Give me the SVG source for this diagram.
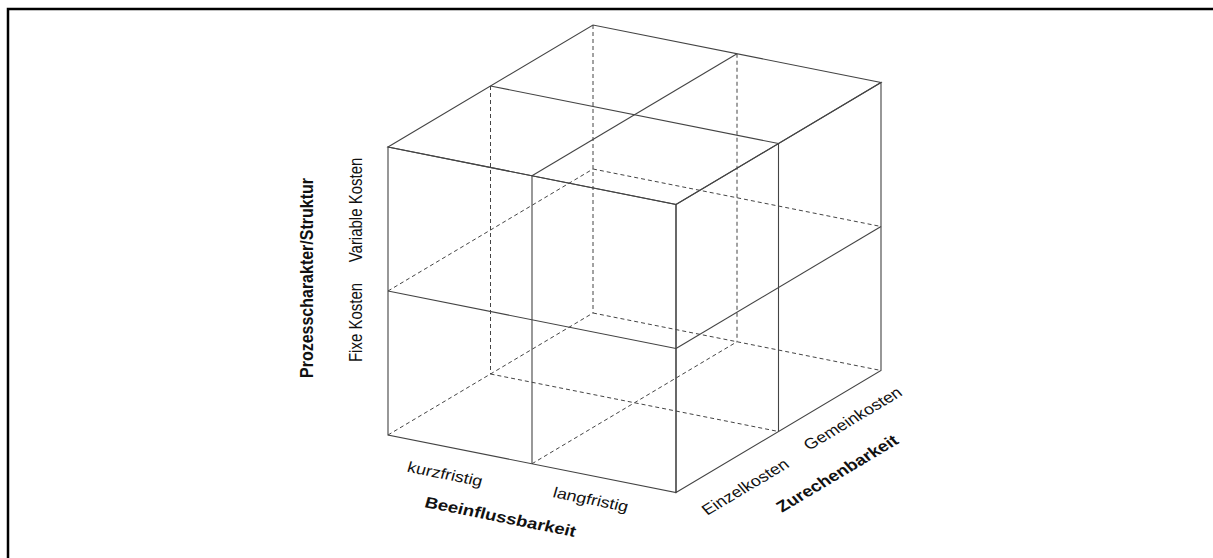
<svg xmlns="http://www.w3.org/2000/svg" width="1213" height="558" viewBox="0 0 1213 558">
<style>
.s{fill:none;stroke:#444;stroke-width:1.1}
.d{fill:none;stroke:#444;stroke-width:1;stroke-dasharray:4 3}
.t{font-family:"Liberation Sans",Arial,sans-serif;font-size:15px;fill:#111;text-anchor:middle}
.b{font-weight:bold}
</style>
<rect width="1213" height="558" fill="#fff"/>
<polyline points="8,558 8,9 1213,9" fill="none" stroke="#000" stroke-width="2.5"/>
<g id="connectors">
<g id="hidden">
<line class="d" x1="593" y1="25" x2="593" y2="313"/>
<line class="d" x1="490.5" y1="86" x2="490.5" y2="374"/>
<line class="d" x1="737" y1="53.75" x2="737" y2="341.75"/>
<line class="d" x1="388" y1="291" x2="593" y2="169"/>
<line class="d" x1="593" y1="169" x2="881" y2="226.5"/>
<line class="d" x1="388" y1="435" x2="593" y2="313"/>
<line class="d" x1="593" y1="313" x2="881" y2="370.5"/>
<line class="d" x1="532" y1="463.75" x2="737" y2="341.75"/>
<line class="d" x1="490.5" y1="374" x2="778.5" y2="431.5"/>
</g>
<g id="front">
<polygon class="s" points="388,147 676,204.5 676,492.5 388,435"/>
<line class="s" x1="532" y1="175.75" x2="532" y2="463.75"/>
<line class="s" x1="388" y1="291" x2="676" y2="348.5"/>
</g>
<g id="top">
<polygon class="s" points="388,147 593,25 881,82.5 676,204.5"/>
<line class="s" x1="532" y1="175.75" x2="737" y2="53.75"/>
<line class="s" x1="490.5" y1="86" x2="778.5" y2="143.5"/>
</g>
<g id="right">
<polygon class="s" points="676,204.5 881,82.5 881,370.5 676,492.5"/>
<line class="s" x1="778.5" y1="143.5" x2="778.5" y2="431.5"/>
<line class="s" x1="676" y1="348.5" x2="881" y2="226.5"/>
</g>
</g>
<g id="axis-prozess">
<text class="t b" font-size="16" transform="translate(313,278) scale(1.2,1) rotate(-90)" style="font-size:16px">Prozesscharakter/Struktur</text>
<text class="t" transform="translate(361.5,210) scale(1.2,1) rotate(-90)">Variable Kosten</text>
<text class="t" transform="translate(361.5,322.5) scale(1.2,1) rotate(-90)">Fixe Kosten</text>
</g>
<g id="axis-beeinfluss">
<text class="t" transform="translate(443.6,479) scale(1.2,1) rotate(13.5)">kurzfristig</text>
<text class="t" transform="translate(589.4,504.5) scale(1.2,1) rotate(13.5)">langfristig</text>
<text class="t b" transform="translate(499,522) scale(1.2,1) rotate(13.5)" style="font-size:15.5px">Beeinflussbarkeit</text>
</g>
<g id="axis-zurechen">
<text class="t" transform="translate(748.8,491.1) scale(1.2,1) rotate(-35.5)">Einzelkosten</text>
<text class="t" transform="translate(856.3,422.7) scale(1.2,1) rotate(-35.5)">Gemeinkosten</text>
<text class="t b" transform="translate(840.9,477.8) scale(1.2,1) rotate(-35.5)" style="font-size:15.5px">Zurechenbarkeit</text>
</g>
</svg>
